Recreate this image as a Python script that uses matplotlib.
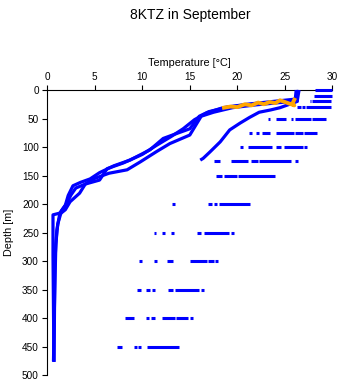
import matplotlib

matplotlib.use("Agg")

import matplotlib.pyplot as plt

matplotlib.rcParams["font.family"] = "sans-serif"
matplotlib.rcParams["font.sans-serif"] = ["Liberation Sans"]
matplotlib.rcParams["font.size"] = 7

blue = "#0000FF"
orange = "#FFA500"

# CTD profiles (temperature [degC], depth [m])
prof1_t = [26.4, 26.2, 24.0, 21.5, 19.0, 17.0, 16.0, 15.0, 13.5, 12.2, 10.8, 8.7,
           7.0, 5.5, 4.5, 3.5, 2.7, 2.2, 1.9, 1.3, 0.6, 0.6, 0.7]
prof1_d = [0, 18, 21, 25, 30, 38, 46, 68, 77, 85, 105, 123,
           133, 145, 156, 162, 168, 185, 202, 216, 219, 290, 477]

prof2_t = [26.5, 26.3, 24.5, 22.0, 19.5, 17.5, 16.2, 15.0, 12.9, 11.5, 9.8, 8.4,
           6.5, 5.0, 4.0, 3.4, 2.4, 1.9, 1.3, 1.0, 0.8, 0.75, 0.7]
prof2_d = [0, 20, 22, 26, 31, 39, 46, 79, 94, 108, 126, 140,
           146, 155, 165, 181, 196, 210, 218, 246, 300, 400, 477]

prof3_t = [26.2, 26.1, 23.8, 21.0, 18.5, 16.8, 15.5, 14.3, 13.0, 11.5, 10.0, 8.0,
           6.3, 5.5, 4.0, 3.0, 2.5, 2.0, 1.5, 1.1, 0.9, 0.75, 0.65]
prof3_d = [0, 16, 20, 25, 31, 40, 52, 68, 82, 97, 113, 128,
           138, 158, 165, 172, 184, 200, 212, 235, 270, 380, 476]

prof4_t = [26.3, 26.3, 25.5, 24.5, 23.5, 22.3, 21.3, 20.3, 19.2, 18.2, 17.1, 16.4, 16.1]
prof4_d = [0, 20, 25, 31, 35, 39, 48, 58, 70, 91, 109, 120, 123]

# orange profile near the surface
orange_t = [26.0, 25.8, 26.0, 25.0, 24.5, 24.0, 23.4, 22.8, 22.2, 21.5, 20.8,
            20.0, 19.3, 18.6]
orange_d = [17, 24, 27, 21, 18, 23, 21, 25, 22, 27, 25, 30, 29, 31]

# observations at standard depths: (start, end) temperature runs
std_depths = [0, 10, 20, 30, 50, 75, 100, 125, 150, 200, 250, 300, 350, 400, 450]
std_runs = [
    [(28.2, 30.0)],
    [(28.1, 30.0)],
    [(27.6, 27.8), (27.9, 29.9)],
    [(26.3, 26.7), (26.8, 27.1), (27.2, 29.9)],
    [(23.2, 23.4), (24.1, 25.1), (25.6, 25.9), (26.1, 27.8), (27.9, 29.3)],
    [(21.2, 21.5), (22.0, 22.3), (22.6, 23.4), (24.1, 26.0), (26.1, 26.9), (27.0, 28.4)],
    [(20.3, 20.6), (21.1, 23.6), (24.1, 24.6), (24.9, 26.9), (27.0, 27.3)],
    [(17.5, 18.2), (19.3, 21.1), (21.4, 22.2), (22.3, 25.7), (26.1, 26.4)],
    [(17.8, 18.4), (18.6, 20.0), (20.1, 24.0)],
    [(13.1, 13.4), (16.9, 17.3), (17.5, 17.9), (18.1, 21.3)],
    [(11.2, 11.4), (12.1, 12.4), (13.0, 13.3), (15.8, 16.2), (16.5, 19.1), (19.3, 19.7)],
    [(9.7, 10.0), (11.2, 11.5), (12.6, 13.2), (15.0, 16.8), (16.9, 17.5), (17.7, 18.0)],
    [(9.4, 9.9), (10.4, 10.8), (11.0, 11.3), (12.7, 13.2), (13.4, 16.0), (16.2, 16.5)],
    [(8.2, 9.1), (10.4, 10.7), (10.9, 11.3), (12.1, 13.4), (13.5, 14.8), (15.0, 15.3)],
    [(7.3, 7.9), (9.1, 9.4), (9.5, 9.9), (10.5, 13.9)],
]

fig = plt.figure(figsize=(3.41, 3.84), dpi=100)
ax = fig.add_axes([0.1387, 0.0234, 0.8358, 0.7422])

for t, d in [(prof1_t, prof1_d), (prof2_t, prof2_d), (prof3_t, prof3_d), (prof4_t, prof4_d)]:
    ax.plot(t, d, color=blue, lw=2.3, solid_joinstyle="round", solid_capstyle="butt",
            clip_on=False, zorder=3)

for depth, runs in zip(std_depths, std_runs):
    for t0, t1 in runs:
        ax.hlines(depth, t0, t1, color=blue, lw=2.2, clip_on=False, zorder=3)

ax.plot(orange_t, orange_d, color=orange, lw=2.8, solid_joinstyle="round", zorder=4)

ax.set_xlim(0, 30)
ax.set_ylim(500, 0)
ax.set_xticks(range(0, 31, 5))
ax.set_yticks(range(0, 501, 50))

ax.xaxis.tick_top()
ax.xaxis.set_label_position("top")
ax.spines["right"].set_visible(False)
ax.spines["bottom"].set_visible(False)
ax.spines["top"].set_linewidth(0.8)
ax.spines["left"].set_linewidth(0.8)
ax.tick_params(direction="out", length=3.6, width=0.8, pad=2.5, labelsize=7.2)

ax.set_xlabel("Temperature [°C]", fontsize=7.8, labelpad=4)
ax.set_ylabel("Depth [m]", fontsize=7.8, labelpad=6)

fig.text(0.557, 0.978, "8KTZ in September", ha="center", va="top", fontsize=10)

fig.savefig("out.png", dpi=100)
